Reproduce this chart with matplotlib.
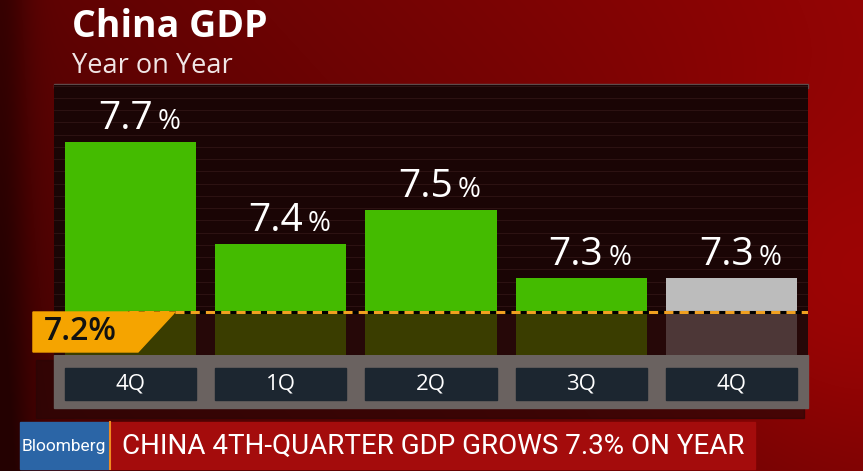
import matplotlib
matplotlib.use('Agg')
import matplotlib.pyplot as plt
import matplotlib.transforms as mtransforms
from matplotlib.patches import Polygon, Rectangle
import numpy as np

# data
quarters = ['4Q', '1Q', '2Q', '3Q', '4Q']
growth = [7.7, 7.4, 7.5, 7.3, 7.3]
is_latest = [False, False, False, False, True]
target = 7.2
title = 'China GDP'
subtitle = 'Year on Year'
headline = 'CHINA 4TH-QUARTER GDP GROWS 7.3% ON YEAR'

W, H = 863, 471
FONT = ['Open Sans', 'DejaVu Sans']
NARROW = ['Roboto', 'DejaVu Sans']

fig = plt.figure(figsize=(W / 100, H / 100), dpi=100)

# background (pixel coords)
bg = fig.add_axes([0, 0, 1, 1], zorder=0)
bg.set_xlim(0, W)
bg.set_ylim(H, 0)
bg.axis('off')
yy, xx = np.mgrid[0:H, 0:W]
shade = 0.5 + 0.3 * (xx / W) - 0.15 * (yy / H) + 0.15 * np.exp(-((xx - 820) ** 2 + (yy - 300) ** 2) / 30000)
shade -= 0.2 * np.exp(-(xx ** 2) / 800)
shade = np.clip(shade, 0.2, 1.0)
img = np.zeros((H, W, 3))
img[..., 0] = 0.72 * shade
img[..., 1] = 0.02 * shade
img[..., 2] = 0.02 * shade
bg.imshow(img, extent=(0, W, H, 0), aspect='auto')

bg.text(72, 37, title, color='white', fontsize=27, fontweight='bold', family=FONT, va='baseline')
bg.text(72, 73, subtitle, color='#f1e6e6', fontsize=19.5, family=FONT, va='baseline')

# panel top rule and label strip
bg.add_patch(Rectangle((54, 84), 754, 4, color='#5d4b4b', zorder=2))
bg.add_patch(Rectangle((36, 360), 768, 58, color='#2a0606', alpha=0.7, zorder=1))
bg.add_patch(Rectangle((54, 355), 754, 53, color='#6a6260', zorder=2))

# Bloomberg banner
bg.add_patch(Rectangle((20, 422), 89, 47, color='#2b65a6', zorder=3))
bg.add_patch(Rectangle((110, 422), 645, 47, color='#a40c0c', zorder=3))
bg.plot([109.5, 109.5], [422, 469], color='#f08a20', lw=1.5, zorder=4)
bg.text(64, 446, 'Bloomberg', color='white', fontsize=12.5, family=NARROW,
        ha='center', va='center', zorder=5)
bg.text(433, 446, headline, color='white', fontsize=20, family=NARROW,
        ha='center', va='center', zorder=5)

# chart panel
ax = fig.add_axes([54 / W, (H - 355) / H, 754 / W, 270 / H], zorder=2)
ax.set_facecolor('#1a0505')
ymin, ymax = 7.0735, 7.8676
ax.set_xlim(-0.51, 4.51)
ax.set_ylim(ymin, ymax)
for s in ax.spines.values():
    s.set_visible(False)
ax.set_xticks([])
ax.set_yticks([])

# faint horizontal stripes
for y in np.arange(ymin, ymax, 0.036):
    ax.axhline(y, color='#2c1212', lw=0.8, zorder=0)
ax.axhspan(ymin, target, color='#260808', zorder=0.5)

x = np.arange(len(quarters))
bar_w = 0.873
top_colors = ['#bcbcbc' if l else '#44bb00' for l in is_latest]
low_colors = ['#4d3737' if l else '#3a3d00' for l in is_latest]
ax.bar(x, [v - target for v in growth], bottom=target, width=bar_w, color=top_colors, zorder=2)
ax.bar(x, [target - ymin] * len(x), bottom=ymin, width=bar_w, color=low_colors, zorder=2)

for xi, v in zip(x, growth):
    ax.annotate(f'{v:.1f}', (xi + 0.147, v), xytext=(0, 9), textcoords='offset points',
                ha='right', va='baseline', color='white', fontsize=28, family=FONT, zorder=4)
    ax.annotate('%', (xi + 0.18, v), xytext=(0, 9), textcoords='offset points',
                ha='left', va='baseline', color='white', fontsize=20, family=FONT, zorder=4)

# target line with tag
ax.axhline(target, xmin=0.1, xmax=1, color='black', lw=2.2, zorder=3)
ax.axhline(target, xmin=0.1, xmax=1, color='#f0a020', lw=2.2, ls=(0, (3, 2)), zorder=3.1)
trans = mtransforms.blended_transform_factory(ax.transAxes, ax.transData)
tag_h = 40 / 340
tag = Polygon([(-0.0279, target), (0.1605, target), (0.1114, target - tag_h), (-0.0279, target - tag_h)],
              closed=True, transform=trans, color='#f5a400', clip_on=False, zorder=5)
ax.add_patch(tag)
ax.text(-0.014, target - tag_h / 2, f'{target:.1f}%', transform=trans, color='#111111',
        fontsize=23, fontweight='semibold', family=FONT, ha='left', va='center',
        clip_on=False, zorder=6)

# quarter label boxes
lab_trans = mtransforms.blended_transform_factory(ax.transData, ax.transAxes)
for xi, q in zip(x, quarters):
    ax.add_patch(Rectangle((xi - bar_w / 2, -0.167), bar_w, 0.119, transform=lab_trans,
                           color='#1c2630', clip_on=False, zorder=5))
    ax.text(xi, -0.108, q, transform=lab_trans, color='white', fontsize=16, family=FONT,
            ha='center', va='center', clip_on=False, zorder=6)

fig.savefig('out.png', dpi=100)
